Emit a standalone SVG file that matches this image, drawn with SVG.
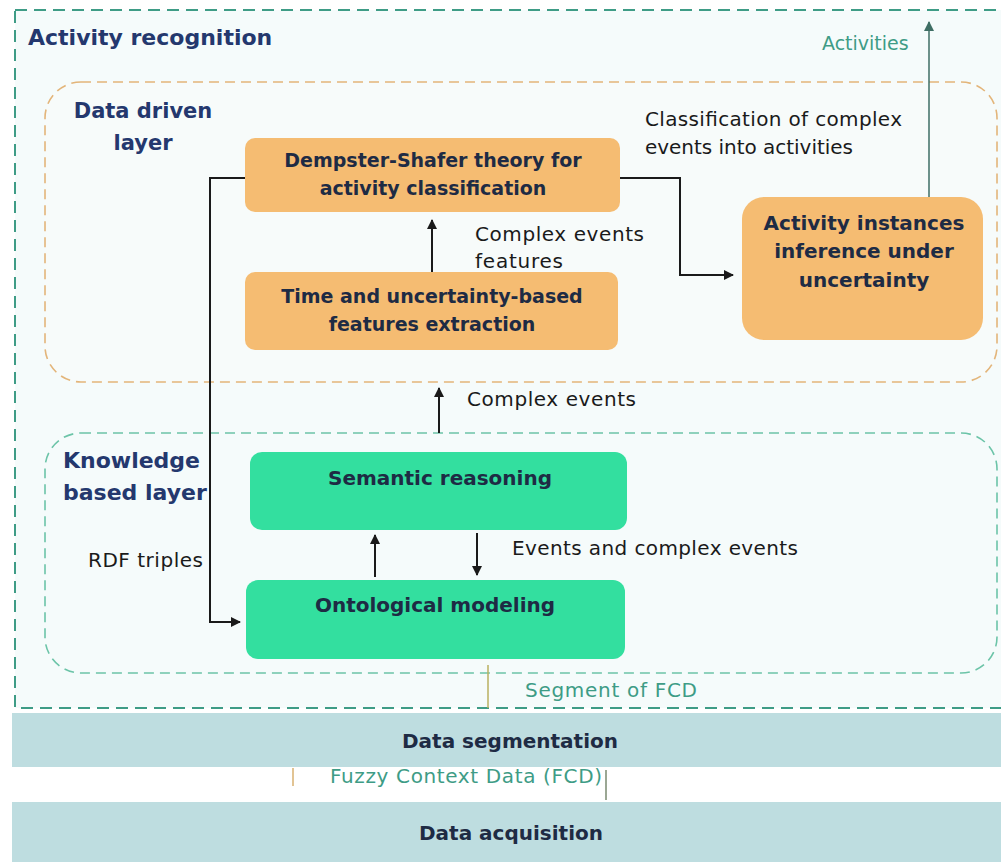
<svg xmlns="http://www.w3.org/2000/svg" width="1001" height="862" viewBox="0 0 1001 862">
<defs>
<style>
.bg{fill:#ffffff}
.orange{fill:#F5BC72}
.green{fill:#33DF9F}
.bar{fill:#BEDDE0}
.t{font-family:"DejaVu Sans",Verdana,sans-serif;font-size:20px;fill:#1a1a1a}
.b{font-weight:bold;fill:#1E2B44}
.s19{font-size:19px}
.navy{font-family:"DejaVu Sans",Verdana,sans-serif;font-size:21px;font-weight:bold;fill:#24386E}
.k{font-size:22px}
.teal{fill:#3E9C86}
.line{stroke:#1a1a1a;stroke-width:2;fill:none}
</style>
<marker id="ah" viewBox="0 0 10 10" refX="9" refY="5" markerWidth="5" markerHeight="5" orient="auto-start-reverse" markerUnits="strokeWidth">
<path d="M0,0 L10,5 L0,10 z" fill="#1a1a1a"/>
</marker>
<marker id="ahs" viewBox="0 0 10 10" refX="9" refY="5" markerWidth="7" markerHeight="7" orient="auto" markerUnits="strokeWidth">
<path d="M0,0 L10,5 L0,10 z" fill="#3E6E64"/>
</marker>
</defs>
<rect class="bg" x="0" y="0" width="1001" height="862"/>

<g id="activity-recognition">
<rect x="15" y="10" width="990" height="698" fill="#F5FBFB" stroke="#3E9C86" stroke-width="2" stroke-dasharray="12,7"/>
<text class="navy k" x="28" y="45">Activity recognition</text>
</g>

<g id="data-driven-layer">
<rect x="45" y="82" width="952" height="300" rx="36" fill="#F7FBFA" stroke="#E3B57A" stroke-width="1.6" stroke-dasharray="10,6"/>
<text class="navy" x="143" y="118" text-anchor="middle">Data driven</text>
<text class="navy" x="143" y="150" text-anchor="middle">layer</text>
</g>

<g id="knowledge-layer">
<rect x="45" y="433" width="952" height="240" rx="36" fill="#F5FBFB" stroke="#6CC4A8" stroke-width="1.6" stroke-dasharray="10,6"/>
<text class="navy k" x="63" y="468">Knowledge</text>
<text class="navy k" x="63" y="500">based layer</text>
</g>

<g id="dempster">
<rect class="orange" x="245" y="138" width="375" height="74" rx="10"/>
<text class="t b s19" x="433" y="167" text-anchor="middle">Dempster-Shafer theory for</text>
<text class="t b s19" x="433" y="195" text-anchor="middle">activity classification</text>
</g>

<g id="features">
<rect class="orange" x="245" y="272" width="373" height="78" rx="10"/>
<text class="t b s19" x="432" y="303" text-anchor="middle">Time and uncertainty-based</text>
<text class="t b s19" x="432" y="331" text-anchor="middle">features extraction</text>
</g>

<g id="activity-instances">
<rect class="orange" x="742" y="197" width="241" height="143" rx="22"/>
<text class="t b" x="864" y="230" text-anchor="middle">Activity instances</text>
<text class="t b" x="864" y="258" text-anchor="middle">inference under</text>
<text class="t b" x="864" y="287" text-anchor="middle">uncertainty</text>
</g>

<g id="semantic">
<rect class="green" x="250" y="452" width="377" height="78" rx="12"/>
<text class="t b" x="440" y="485" text-anchor="middle">Semantic reasoning</text>
</g>

<g id="ontological">
<rect class="green" x="246" y="580" width="379" height="79" rx="12"/>
<text class="t b" x="435" y="612" text-anchor="middle">Ontological modeling</text>
</g>

<g id="data-segmentation">
<rect class="bar" x="12" y="713" width="989" height="54"/>
<text class="t b" x="510" y="748" text-anchor="middle">Data segmentation</text>
</g>

<g id="data-acquisition">
<rect class="bar" x="12" y="802" width="989" height="60"/>
<text class="t b" x="511" y="840" text-anchor="middle">Data acquisition</text>
</g>

<g id="connectors">
<path class="line" d="M432,272 V220" marker-end="url(#ah)"/>
<path class="line" d="M620,178 H680 V275 H733" marker-end="url(#ah)"/>
<path d="M929,197 V22" stroke="#3E6E64" stroke-width="1.5" fill="none" marker-end="url(#ahs)"/>
<path class="line" d="M439,433 V388" marker-end="url(#ah)"/>
<path class="line" d="M245,178 H210 V622 H240" marker-end="url(#ah)"/>
<path class="line" d="M375,577 V535" marker-end="url(#ah)"/>
<path class="line" d="M477,533 V575" marker-end="url(#ah)"/>
<path d="M488,708 V665" stroke="#B8B060" stroke-width="1.5" fill="none"/>
<path d="M293,768 V786" stroke="#D8B070" stroke-width="1.5" fill="none"/>
<path d="M606,800 V770" stroke="#7A8A70" stroke-width="1.5" fill="none"/>
<text class="t" x="475" y="241" textLength="169">Complex events</text>
<text class="t" x="475" y="268" textLength="88">features</text>
<text class="t" x="645" y="126" textLength="257">Classification of complex</text>
<text class="t" x="645" y="154" textLength="208">events into activities</text>
<text class="t teal s19" x="822" y="50">Activities</text>
<text class="t" x="467" y="406" textLength="169">Complex events</text>
<text class="t" x="512" y="555" textLength="286">Events and complex events</text>
<text class="t" x="88" y="567" textLength="115">RDF triples</text>
<text class="t teal" x="525" y="697" textLength="172">Segment of FCD</text>
<text class="t teal" x="330" y="783" textLength="272">Fuzzy Context Data (FCD)</text>
</g>
</svg>
